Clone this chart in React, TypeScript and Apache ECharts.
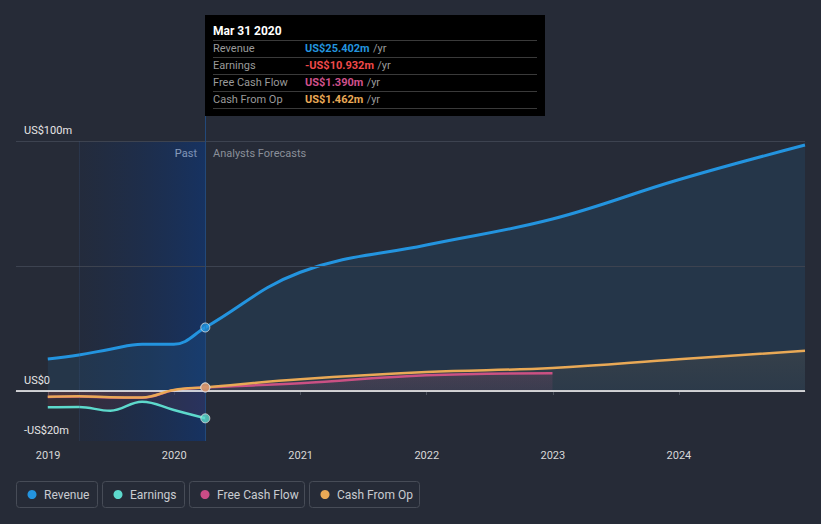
import React, { useEffect, useRef } from "react";
import * as echarts from "echarts";

// ---- data ----
const pastDates = ["2018-12-31", "2019-03-31", "2019-06-30", "2019-09-30", "2019-12-31", "2020-03-31"];
const forecastDates = ["2020-12-31", "2021-12-31", "2022-12-31", "2023-12-31", "2024-12-31"];

const revenuePast = [12.8, 14.4, 16.7, 18.7, 18.7, 25.402];
const revenueForecast = [47.5, 58.4, 68.8, 84.5, 98.4];
const earningsPast = [-6.5, -6.4, -7.9, -4.3, -7.6, -10.932];
const fcfPast = [-2.4, -2.2, -2.6, -2.7, 0.3, 1.39];
const fcfForecast = [3.1, 6.3, 7.1];
const cfoPast = [-2.3, -2.1, -2.5, -2.6, 0.4, 1.462];
const cfoForecast = [4.7, 7.6, 9.2, 12.7, 16.1];

const seriesNames = ["Revenue", "Earnings", "Free Cash Flow", "Cash From Op"];
const seriesColors = ["#2394df", "#5dd9cc", "#c94c86", "#e9a956"];
const tooltipDate = "Mar 31 2020";
const tooltipValues = ["US$25.402m", "-US$10.932m", "US$1.390m", "US$1.462m"];
const tooltipValueColors = ["#2394df", "#f04a4a", "#d0518c", "#e9a956"];

const pastStart = "2019-03-31";
const nowDate = "2020-03-31";
const xMin = "2018-09-30";
const xMax = "2024-12-31";

const yLabels: Record<string, string> = { "100": "US$100m", "0": "US$0", "-20": "-US$20m" };

function pairs(dates: string[], vals: number[]) {
  return vals.map((v, i) => [dates[i], v]);
}

export default function App() {
  const ref = useRef<HTMLDivElement>(null);
  useEffect(() => {
    document.body.style.margin = "0";
    const chart = echarts.init(ref.current!, null, { renderer: "svg" });
    const font = "Roboto, 'Noto Sans', sans-serif";

    const revenue = [...pairs(pastDates, revenuePast), ...pairs(forecastDates, revenueForecast)];
    const earnings = pairs(pastDates, earningsPast);
    const fcf = [...pairs(pastDates, fcfPast), ...pairs(forecastDates, fcfForecast)];
    const cfo = [...pairs(pastDates, cfoPast), ...pairs(forecastDates, cfoForecast)];
    const lastIdx = pastDates.length - 1;

    const fill = (c: string, a1: number, a2: number) =>
      new echarts.graphic.LinearGradient(0, 0, 0, 1, [
        { offset: 0, color: echarts.color.modifyAlpha(c, a1) },
        { offset: 1, color: echarts.color.modifyAlpha(c, a2) },
      ]);

    const lineBase = {
      type: "line" as const,
      showSymbol: false,
      symbol: "none",
      smooth: 0.4,
      silent: true,
    };

    // legend graphics
    const legendBoxes = [
      [16, 81],
      [102, 82],
      [189, 115],
      [309, 110],
    ];
    const legendEls: any[] = [];
    seriesNames.forEach((name, i) => {
      const [bx, bw] = legendBoxes[i];
      legendEls.push({
        type: "rect",
        shape: { x: bx + 0.5, y: 481.5, width: bw, height: 26, r: 3 },
        style: { fill: "transparent", stroke: "#474c57", lineWidth: 1 },
      });
      legendEls.push({
        type: "circle",
        shape: { cx: bx + 16, cy: 494.5, r: 4.5 },
        style: { fill: seriesColors[i] },
      });
      legendEls.push({
        type: "text",
        x: bx + 28,
        y: 494.5,
        style: { text: name, fill: "#c9ccd1", font: `12px ${font}`, verticalAlign: "middle" },
      });
    });

    // tooltip graphics
    const tipEls: any[] = [
      { type: "rect", shape: { x: 0, y: 0, width: 340, height: 101 }, style: { fill: "#000000" } },
      {
        type: "text",
        x: 8,
        y: 16,
        style: { text: tooltipDate, fill: "#ffffff", font: `bold 12px ${font}`, verticalAlign: "middle" },
      },
    ];
    [25, 42, 59, 76, 93].forEach((ly) => {
      tipEls.push({
        type: "line",
        shape: { x1: 8, y1: ly + 0.5, x2: 332, y2: ly + 0.5 },
        style: { stroke: "#3a3a3a", lineWidth: 1 },
      });
    });
    seriesNames.forEach((name, i) => {
      const cy = 33.5 + i * 17;
      tipEls.push({
        type: "text",
        x: 8,
        y: cy,
        style: { text: name, fill: "#9a9a9a", font: `11px ${font}`, verticalAlign: "middle" },
      });
      tipEls.push({
        type: "text",
        x: 100,
        y: cy,
        style: {
          text: `{v|${tooltipValues[i]}} {u|/yr}`,
          verticalAlign: "middle",
          rich: {
            v: { fill: tooltipValueColors[i], font: `bold 11px ${font}` },
            u: { fill: "#9a9a9a", font: `11px ${font}` },
          },
        },
      });
    });

    chart.setOption({
      animation: false,
      backgroundColor: "#262b37",
      textStyle: { fontFamily: font },
      grid: { left: 16, right: 16, top: 116, bottom: 83, containLabel: false, outerBoundsMode: "none" },
      xAxis: {
        type: "time",
        min: xMin,
        max: xMax,
        minInterval: 365 * 86400000,
        splitLine: { show: false },
        axisLine: { lineStyle: { color: "#4b515c", width: 1 } },
        axisTick: { show: true, length: 4, lineStyle: { color: "#4b515c" } },
        axisLabel: {
          color: "#d8d8d8",
          fontSize: 11,
          margin: 9,
          formatter: (v: number) => {
            const d = new Date(v);
            return d.getMonth() === 0 ? String(d.getFullYear()) : "";
          },
        },
      },
      yAxis: {
        type: "value",
        min: -20,
        max: 110,
        interval: 10,
        splitLine: { show: false },
        axisLine: { show: false },
        axisTick: { show: false },
        axisLabel: {
          inside: true,
          margin: 8,
          showMinLabel: true,
          color: "#e6e6e6",
          fontSize: 11,
          verticalAlign: "bottom",
          padding: [0, 0, 5, 0],
          formatter: (v: number) => yLabels[String(v)] ?? "",
        },
      },
      series: [
        {
          type: "line",
          data: [],
          z: 0,
          silent: true,
          markArea: {
            silent: true,
            itemStyle: {
              color: new echarts.graphic.LinearGradient(0, 0, 1, 0, [
                { offset: 0, color: "rgba(20,45,90,0.15)" },
                { offset: 1, color: "rgba(12,55,125,0.6)" },
              ]),
            },
            data: [[{ coord: [pastStart, -20] }, { coord: [nowDate, 100] }]],
          },
          markLine: {
            silent: true,
            symbol: "none",
            label: { show: false },
            data: [
              { yAxis: 100, lineStyle: { color: "#3d4350", width: 1, type: "solid" } },
              { yAxis: 50, lineStyle: { color: "#3d4350", width: 1, type: "solid" } },
              [
                { coord: [pastStart, -20], lineStyle: { color: "rgba(60,85,120,0.25)", width: 1, type: "solid" } },
                { coord: [pastStart, 100] },
              ],
              { xAxis: nowDate, lineStyle: { color: "#22497a", width: 1, type: "solid" } },
            ],
          },
        },
        {
          ...lineBase,
          name: seriesNames[0],
          z: 3,
          data: revenue,
          lineStyle: { color: seriesColors[0], width: 3 },
          areaStyle: { color: "rgba(35,148,223,0.15)" },
        },
        {
          ...lineBase,
          name: seriesNames[2],
          z: 4,
          data: fcf,
          lineStyle: { color: seriesColors[2], width: 2.5 },
          areaStyle: { color: fill(seriesColors[2], 0.2, 0.1) },
        },
        {
          ...lineBase,
          name: seriesNames[3],
          z: 5,
          data: cfo,
          lineStyle: { color: seriesColors[3], width: 2.5 },
          areaStyle: { color: fill(seriesColors[3], 0.12, 0.04) },
        },
        {
          ...lineBase,
          name: seriesNames[1],
          z: 4,
          data: earnings,
          lineStyle: { color: seriesColors[1], width: 2.5 },
          areaStyle: { color: "rgba(240,74,74,0.12)" },
        },
        {
          type: "line",
          data: [],
          z: 6,
          silent: true,
          markLine: {
            silent: true,
            symbol: "none",
            label: { show: false },
            data: [{ yAxis: 0, lineStyle: { color: "#ffffff", width: 1.5, type: "solid" } }],
          },
        },
        {
          type: "scatter",
          z: 8,
          silent: true,
          symbolSize: 9,
          data: [
            { value: [pastDates[lastIdx], revenuePast[lastIdx]], itemStyle: { color: seriesColors[0] } },
            { value: [pastDates[lastIdx], earningsPast[lastIdx]], itemStyle: { color: seriesColors[1] } },
            { value: [pastDates[lastIdx], fcfPast[lastIdx]], itemStyle: { color: seriesColors[2] } },
            { value: [pastDates[lastIdx], cfoPast[lastIdx]], itemStyle: { color: "#d4a46a" } },
          ],
          itemStyle: { borderColor: "#e0e0e0", borderWidth: 1 },
        },
      ],
      graphic: [
        {
          type: "text",
          x: 197,
          y: 153,
          style: { text: "Past", fill: "#ffffff", font: `11px ${font}`, align: "right", verticalAlign: "middle" },
        },
        {
          type: "text",
          x: 213,
          y: 153,
          style: { text: "Analysts Forecasts", fill: "#8a8f99", font: `11px ${font}`, verticalAlign: "middle" },
        },
        { type: "group", x: 205, y: 15, children: tipEls },
        { type: "group", children: legendEls },
      ],
    });
    return () => chart.dispose();
  }, []);
  return (
    <div
      ref={ref}
      style={{ position: "fixed", left: 0, top: 0, width: 821, height: 524, background: "#262b37" }}
    />
  );
}
